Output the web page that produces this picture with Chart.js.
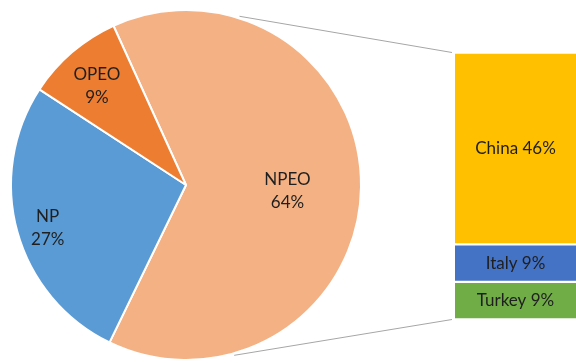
<!DOCTYPE html>
<html>
<head>
<meta charset="utf-8">
<script src="https://cdn.jsdelivr.net/npm/chart.js@4"></script>
<style>
  body { margin: 0; background: #fff; }
  #wrap { position: relative; width: 576px; height: 363px; overflow: hidden; }
  #wrap canvas { position: absolute; left: 0; top: 0; }
</style>
</head>
<body>
<div id="wrap">
  <canvas id="pie" width="576" height="363"></canvas>
  <canvas id="bar" width="576" height="363"></canvas>
</div>
<script>
"use strict";

// surfactant split (pie) and NPEO breakdown by country (bar)
const pieLabels = ["NPEO", "NP", "OPEO"];
const pieValues = [64, 27, 9];
const pieColors = ["#F4B183", "#5B9BD5", "#ED7D31"];

const barLabels = ["China", "Italy", "Turkey"];
const barValues = [46, 9, 9];
const barColors = ["#FFC000", "#4472C4", "#70AD47"];

const FONT = "17px Lato, 'Open Sans', sans-serif";
const TEXT = "#1f1f1f";

const pieTotal = pieValues.reduce((a, b) => a + b, 0);
const barTotal = barValues.reduce((a, b) => a + b, 0);

// how far out along the radius each pie label sits
const labelRadius = [0.58, 0.82, 0.78];

const pieLabelPlugin = {
  id: "pieLabels",
  afterDatasetsDraw(chart) {
    const ctx = chart.ctx;
    const meta = chart.getDatasetMeta(0);
    ctx.save();
    ctx.font = FONT;
    ctx.fillStyle = TEXT;
    ctx.textAlign = "center";
    ctx.textBaseline = "middle";
    meta.data.forEach((arc, i) => {
      const mid = (arc.startAngle + arc.endAngle) / 2;
      const r = arc.outerRadius * labelRadius[i];
      const x = arc.x + Math.cos(mid) * r;
      const y = arc.y + Math.sin(mid) * r + 5;
      const pct = Math.round((pieValues[i] / pieTotal) * 100) + "%";
      ctx.fillText(pieLabels[i], x, y - 11.5);
      ctx.fillText(pct, x, y + 11.5);
    });
    ctx.restore();
  },
};

const pieChart = new Chart(document.getElementById("pie"), {
  type: "pie",
  data: {
    labels: pieLabels,
    datasets: [
      {
        data: pieValues,
        backgroundColor: pieColors,
        borderColor: "#fff",
        borderWidth: 2,
      },
    ],
  },
  options: {
    responsive: false,
    animation: false,
    rotation: -24.5,
    layout: { padding: { left: 10, right: 214, top: 9, bottom: 2 } },
    plugins: { legend: { display: false }, tooltip: { enabled: false } },
  },
  plugins: [pieLabelPlugin],
});

// where the connector lines leave the pie (degrees, canvas convention)
const connectTop = -72.4;
const connectBottom = 74.2;

const connectorPlugin = {
  id: "connectors",
  afterDatasetsDraw(chart) {
    const ctx = chart.ctx;
    const arc = pieChart.getDatasetMeta(0).data[0];
    const first = chart.getDatasetMeta(0).data[0];
    const last = chart.getDatasetMeta(barValues.length - 1).data[0];
    const left = first.x - first.width / 2;
    const top = Math.min(first.y, first.base);
    const bottom = Math.max(last.y, last.base);
    const r = arc.outerRadius + 2;
    const a1 = (connectTop * Math.PI) / 180;
    const a2 = (connectBottom * Math.PI) / 180;

    ctx.save();
    ctx.strokeStyle = "#A6A6A6";
    ctx.lineWidth = 1;
    ctx.beginPath();
    ctx.moveTo(arc.x + Math.cos(a1) * r, arc.y + Math.sin(a1) * r);
    ctx.lineTo(left - 3, top);
    ctx.moveTo(arc.x + Math.cos(a2) * r, arc.y + Math.sin(a2) * r);
    ctx.lineTo(left - 3, bottom);
    ctx.stroke();

    // segment labels
    ctx.font = FONT;
    ctx.fillStyle = TEXT;
    ctx.textAlign = "center";
    ctx.textBaseline = "middle";
    barValues.forEach((v, i) => {
      const bar = chart.getDatasetMeta(i).data[0];
      const cy = (bar.y + bar.base) / 2;
      ctx.fillText(barLabels[i] + " " + v + "%", bar.x, cy);
    });
    ctx.restore();
  },
};

new Chart(document.getElementById("bar"), {
  type: "bar",
  data: {
    labels: ["NPEO"],
    datasets: barLabels.map((name, i) => ({
      label: name,
      data: [barValues[i]],
      backgroundColor: barColors[i],
      borderColor: "#fff",
      borderWidth: { top: 1.5, bottom: 1.5, left: 0, right: 0 },
      borderSkipped: false,
      barPercentage: 1,
      categoryPercentage: 1,
    })),
  },
  options: {
    responsive: false,
    animation: false,
    layout: { padding: { left: 455, right: -8, top: 52.5, bottom: 43.5 } },
    scales: {
      x: { stacked: true, display: false },
      y: { stacked: true, display: false, reverse: true, min: 0, max: barTotal },
    },
    plugins: { legend: { display: false }, tooltip: { enabled: false } },
  },
  plugins: [connectorPlugin],
});
</script>
</body>
</html>
